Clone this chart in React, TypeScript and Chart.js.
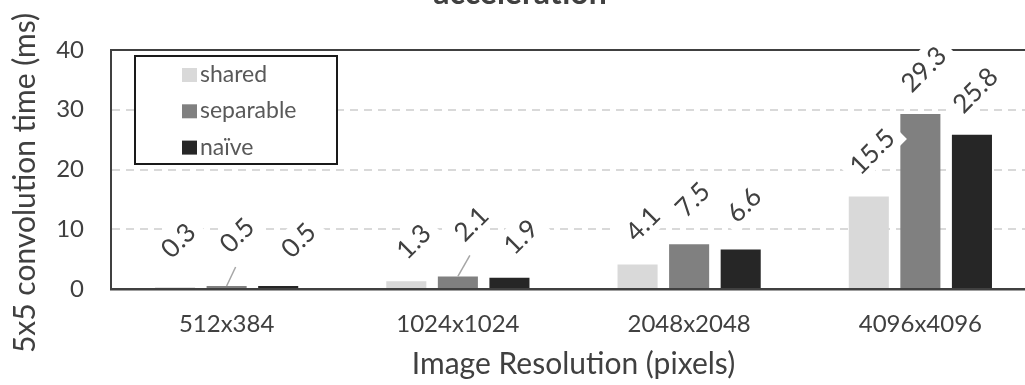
import React, { useEffect, useRef } from "react";
import { Chart, registerables } from "chart.js";

Chart.register(...registerables);

// ---- data ----
const categories = ["512x384", "1024x1024", "2048x2048", "4096x4096"];
const seriesNames = ["shared", "separable", "naïve"];
const sharedValues = [0.3, 1.3, 4.1, 15.5];
const separableValues = [0.5, 2.1, 7.5, 29.3];
const naiveValues = [0.5, 1.9, 6.6, 25.8];
const yTicks = [0, 10, 20, 30, 40];
const chartTitle = "acceleration";
const yAxisTitle = "5x5 convolution time (ms)";
const xAxisTitle = "Image Resolution (pixels)";

// ---- style ----
const FONT = "Lato, 'Open Sans', sans-serif";
const seriesColors = ["#d9d9d9", "#808080", "#262626"];
const TEXT = "#404040";
// label nudges (px, relative to default label spot) for crowded small bars; third = leader line
const labelNudges: Record<string, [number, number, boolean]> = {
  "0-0": [0, -2, false],
  "1-0": [7, -6, true],
  "2-0": [17, -1, false],
  "0-1": [4, 5, false],
  "1-1": [10, -8, true],
  "2-1": [8, 4, false],
  "0-2": [2, 4, false],
};

const decorPlugin = {
  id: "decor",
  afterDraw(chart: any) {
    const { ctx, chartArea: ca } = chart;
    ctx.save();
    // title (clipped at top)
    ctx.font = `bold 32px ${FONT}`;
    ctx.fillStyle = TEXT;
    ctx.textAlign = "center";
    ctx.textBaseline = "alphabetic";
    ctx.fillText(chartTitle, chart.width / 2, 4);

    // y axis title
    ctx.save();
    ctx.translate(35, 183);
    ctx.rotate(-Math.PI / 2);
    ctx.font = `30px ${FONT}`;
    ctx.textAlign = "center";
    ctx.fillText(yAxisTitle, 0, 0);
    ctx.restore();

    // x axis title
    ctx.font = `30px ${FONT}`;
    ctx.textAlign = "center";
    ctx.fillText(xAxisTitle, (ca.left + ca.right) / 2, 374);

    // top border
    ctx.strokeStyle = TEXT;
    ctx.lineWidth = 2;
    ctx.beginPath();
    ctx.moveTo(ca.left - 1, ca.top);
    ctx.lineTo(ca.right, ca.top);
    ctx.stroke();

    // legend box
    const lx = 135, ly = 56, lw = 202, lh = 108;
    ctx.fillStyle = "#ffffff";
    ctx.fillRect(lx, ly, lw, lh);
    ctx.strokeStyle = "#1a1a1a";
    ctx.lineWidth = 2;
    ctx.strokeRect(lx, ly, lw, lh);
    ctx.font = `23px ${FONT}`;
    ctx.textAlign = "left";
    chart.data.datasets.forEach((ds: any, i: number) => {
      const base = 82 + i * 36.3;
      ctx.fillStyle = ds.backgroundColor;
      ctx.fillRect(182, base - 14, 15, 14);
      ctx.fillStyle = "#595959";
      ctx.fillText(ds.label, 200, base);
    });

    // data labels
    ctx.font = `26px ${FONT}`;
    const capH = 26 * 0.72;
    const items: any[] = [];
    chart.data.datasets.forEach((ds: any, di: number) => {
      const meta = chart.getDatasetMeta(di);
      meta.data.forEach((bar: any, i: number) => {
        const n = labelNudges[`${di}-${i}`] || [0, 0, false];
        const cx = bar.x + 3 + n[0];
        const cy = bar.y - 45 + n[1];
        const text = Number(ds.data[i]).toFixed(1);
        items.push({ cx, cy, text, leader: n[2], bx: bar.x, by: bar.y });
      });
    });
    // leader lines
    ctx.strokeStyle = "#a6a6a6";
    ctx.lineWidth = 1.5;
    items.forEach((it) => {
      if (!it.leader) return;
      ctx.beginPath();
      ctx.moveTo(it.bx, it.by);
      ctx.lineTo(it.cx - 1, it.cy + 32);
      ctx.stroke();
    });
    items.forEach((it) => {
      ctx.save();
      ctx.translate(it.cx, it.cy);
      ctx.rotate(-Math.PI / 4);
      const w = ctx.measureText(it.text).width;
      ctx.fillStyle = "#ffffff";
      ctx.fillRect(-w / 2 - 8, -16, w + 16, 32);
      ctx.fillStyle = TEXT;
      ctx.textAlign = "center";
      ctx.textBaseline = "alphabetic";
      ctx.fillText(it.text, 0, capH / 2);
      ctx.restore();
    });
    ctx.restore();
  },
};

export default function App() {
  const ref = useRef<HTMLCanvasElement>(null);
  useEffect(() => {
    const values = [sharedValues, separableValues, naiveValues];
    const chart = new Chart(ref.current!, {
      type: "bar",
      data: {
        labels: categories,
        datasets: seriesNames.map((name, i) => ({
          label: name,
          data: values[i],
          backgroundColor: seriesColors[i],
          borderWidth: 0,
          categoryPercentage: 0.669,
          barPercentage: 0.777,
        })),
      },
      options: {
        animation: false,
        responsive: false,
        devicePixelRatio: 1,
        layout: { padding: { left: 0, top: 50, right: 4, bottom: 0 } },
        plugins: {
          legend: { display: false },
          title: { display: false },
          tooltip: { enabled: false },
        },
        scales: {
          x: {
            grid: { display: false, drawTicks: false },
            border: { display: true, color: TEXT, width: 2.5 },
            ticks: {
              font: { family: FONT, size: 24, lineHeight: 1 },
              color: TEXT,
              padding: 23,
              maxRotation: 0,
              autoSkip: false,
            },
            afterFit: (s: any) => {
              s.height = 96;
            },
          },
          y: {
            min: 0,
            max: 40,
            grid: { color: "#d9d9d9", lineWidth: 2, drawTicks: false },
            border: { display: true, color: TEXT, width: 2, dash: [8, 6] },
            ticks: {
              stepSize: 10,
              font: { family: FONT, size: 24 },
              color: TEXT,
              padding: 27,
            },
            afterBuildTicks: (s: any) => {
              s.ticks = yTicks.map((v) => ({ value: v }));
            },
            afterFit: (s: any) => {
              s.width = 111;
            },
          },
        },
      } as any,
      plugins: [decorPlugin],
    });
    return () => chart.destroy();
  }, []);
  return (
    <div
      style={{
        position: "fixed",
        left: 0,
        top: 0,
        width: 1025,
        height: 385,
        overflow: "hidden",
        background: "#fff",
      }}
    >
      <canvas ref={ref} width={1040} height={385} style={{ display: "block", width: 1040, height: 385 }} />
    </div>
  );
}
